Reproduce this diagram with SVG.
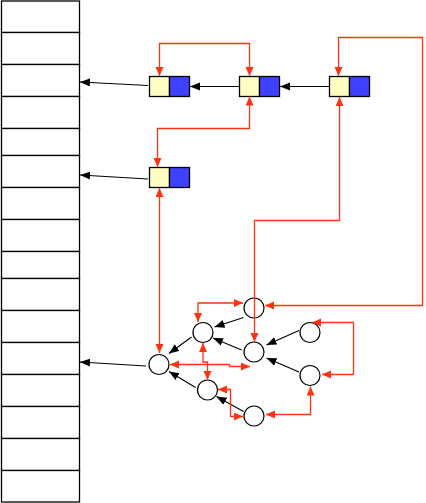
<svg xmlns="http://www.w3.org/2000/svg" width="426" height="503" viewBox="0 0 426 503">
<defs>
<marker id="ab" markerUnits="userSpaceOnUse" markerWidth="11" markerHeight="9" refX="10" refY="4" orient="auto"><path d="M0,0 L10,4 L0,8 z" fill="#000"/></marker>
<marker id="ar" markerUnits="userSpaceOnUse" markerWidth="10" markerHeight="9" refX="9" refY="4" orient="auto-start-reverse"><path d="M0,0 L9,4 L0,8 z" fill="#ff3311"/></marker>
</defs>
<style>
.cell{fill:#fff;stroke:#000;stroke-width:1.3}
.y{fill:#ffffc4;stroke:#000;stroke-width:1.3}
.b{fill:#4040ff;stroke:#000;stroke-width:1.3}
.c{fill:#fff;stroke:#000;stroke-width:1.2}
.k{fill:none;stroke:#000;stroke-width:1.1;marker-end:url(#ab)}
.r{fill:none;stroke:#ff3311;stroke-width:1.3;marker-start:url(#ar);marker-end:url(#ar)}
</style>
<rect width="426" height="503" fill="#fff"/>
<g id="table">
<rect class="cell" x="1.5" y="1" width="78" height="31.5"/>
<rect class="cell" x="1.5" y="32.5" width="78" height="32"/>
<rect class="cell" x="1.5" y="64.5" width="78" height="32"/>
<rect class="cell" x="1.5" y="96.5" width="78" height="32"/>
<rect class="cell" x="1.5" y="128.5" width="78" height="27"/>
<rect class="cell" x="1.5" y="155.5" width="78" height="32"/>
<rect class="cell" x="1.5" y="187.5" width="78" height="32"/>
<rect class="cell" x="1.5" y="219.5" width="78" height="32"/>
<rect class="cell" x="1.5" y="251.5" width="78" height="27"/>
<rect class="cell" x="1.5" y="278.5" width="78" height="32"/>
<rect class="cell" x="1.5" y="310.5" width="78" height="32"/>
<rect class="cell" x="1.5" y="342.5" width="78" height="32"/>
<rect class="cell" x="1.5" y="374.5" width="78" height="32"/>
<rect class="cell" x="1.5" y="406.5" width="78" height="32"/>
<rect class="cell" x="1.5" y="438.5" width="78" height="32"/>
<rect class="cell" x="1.5" y="470.5" width="78" height="31.5"/>
</g>
<g id="box1"><rect class="y" x="149.5" y="76.5" width="20" height="20"/><rect class="b" x="169.5" y="76.5" width="20" height="20"/></g>
<g id="box2"><rect class="y" x="239.5" y="76.5" width="20" height="20"/><rect class="b" x="259.5" y="76.5" width="20" height="20"/></g>
<g id="box3"><rect class="y" x="329.5" y="76.5" width="20" height="20"/><rect class="b" x="349.5" y="76.5" width="20" height="20"/></g>
<g id="box4"><rect class="y" x="149.5" y="167.5" width="20" height="20"/><rect class="b" x="169.5" y="167.5" width="20" height="20"/></g>
<g id="cA"><circle class="c" cx="254" cy="308" r="10"/></g>
<g id="cB"><circle class="c" cx="203" cy="332.5" r="10"/></g>
<g id="cC"><circle class="c" cx="254" cy="352" r="10"/></g>
<g id="cD"><circle class="c" cx="159" cy="364.5" r="10"/></g>
<g id="cE"><circle class="c" cx="207.5" cy="390" r="10"/></g>
<g id="cF"><circle class="c" cx="254" cy="416" r="10"/></g>
<g id="cG"><circle class="c" cx="310" cy="332.5" r="10"/></g>
<g id="cH"><circle class="c" cx="310" cy="375.5" r="10"/></g>
<g id="connectors">
<path class="k" d="M148,85.5 L80,82"/>
<path class="k" d="M148,179 L80,175"/>
<path class="k" d="M239,86.5 L190,86.5"/>
<path class="k" d="M329,86.5 L280,86.5"/>
<path class="k" d="M146,366 L80,362"/>
<path class="k" d="M243.5,317.5 L214.5,327"/>
<path class="k" d="M241.5,350 L213,338"/>
<path class="k" d="M191.5,337 L169,353.5"/>
<path class="k" d="M195.5,387.5 L169,371.5"/>
<path class="k" d="M243.5,411.5 L216.5,396.5"/>
<path class="k" d="M299,330.5 L266.5,345"/>
<path class="k" d="M299,372 L266.5,358"/>
<path class="r" d="M159.5,76 V43.5 H249.5 V76"/>
<path class="r" d="M157.5,167 V128.5 H249.5 V96.5"/>
<path class="r" d="M338.5,76 V37.5 H422.5 V305.5 H265"/>
<path class="r" d="M339.5,97 V220.5 H254.5 V342"/>
<path class="r" d="M159.5,188 V353"/>
<path class="r" d="M243,303 H198 V322"/>
<path class="r" d="M203,343 V362 H207.5 V380"/>
<path class="r" d="M170,364.5 H229.5 V366.5 H250"/>
<path class="r" d="M218,389.5 H230.5 V416.5 H243"/>
<path class="r" d="M266,414.5 H310.5 V386.5"/>
<path class="r" d="M312,322.5 H353.5 V374.5 H322"/>
</g>
</svg>
